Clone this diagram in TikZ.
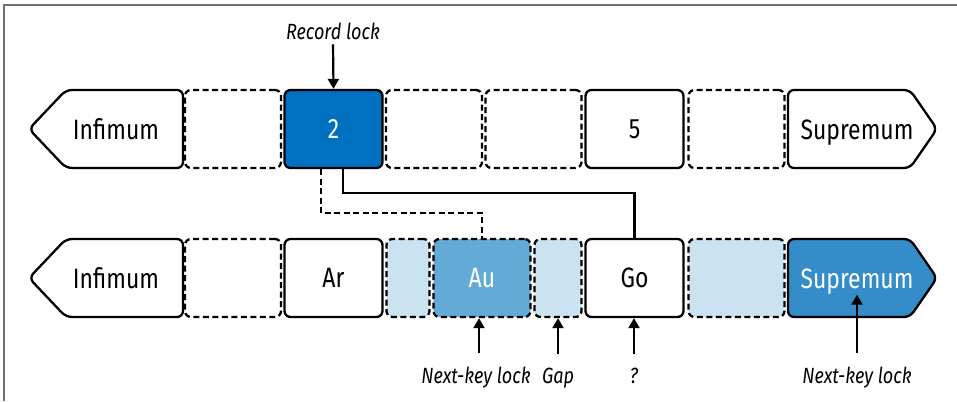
\documentclass[tikz,border=0pt]{standalone}
\usepackage{fontspec}
\setmainfont{Fira Sans}[FakeStretch=0.82]
\usetikzlibrary{arrows.meta}
\definecolor{blueA}{HTML}{0070C0}
\definecolor{blueB}{HTML}{64AAD7}
\definecolor{blueC}{HTML}{348CC8}
\definecolor{lightB}{HTML}{CBE2F0}
\definecolor{frameC}{HTML}{707070}
\begin{document}
\begin{tikzpicture}[x=1pt,y=-1pt,
  cell/.style={draw, line width=2.3pt, rounded corners=6pt, minimum height=78pt,
    minimum width=96pt, inner sep=0pt, font=\fontsize{28}{32}\selectfont},
  gapcell/.style={cell, dash pattern=on 6pt off 3.5pt},
  endcap/.style={draw, line width=2.3pt, rounded corners=6pt},
  endtext/.style={inner sep=0pt, anchor=base, font=\fontsize{28}{32}\selectfont},
  lab/.style={inner sep=1pt, anchor=base, font=\fontsize{22}{25}\selectfont\itshape},
  arr/.style={line width=2.2pt, -{Triangle[length=10pt,width=11pt]}},
  conn/.style={line width=2.2pt},
  dconn/.style={line width=2.2pt, dash pattern=on 6pt off 3.5pt}]
\useasboundingbox (0,0) rectangle (957,401);
% frame
\draw[frameC, line width=2pt] (4,401) -- (4,5.5) -- (957,5.5);

% ---- top row ----
\draw[endcap] (183,90) -- (66,90) -- (29,129) -- (66,168) -- (183,168) -- cycle;
\node[endtext] (tinf) at (116,139.5) {Infimum};
\node[gapcell] (t1) at (233,129) {};
\node[cell, fill=blueA, text=white, minimum width=98pt] (t2) at (333.5,129) {2};
\node[gapcell] (t3) at (434,129) {};
\node[gapcell] (t4) at (533.5,129) {};
\node[cell, minimum width=98pt] (t5) at (634.5,129) {5};
\node[gapcell] (t6) at (736.5,129) {};
\draw[endcap] (788,90) -- (910,90) -- (937,129) -- (910,168) -- (788,168) -- cycle;
\node[endtext] (tsup) at (857,139.5) {Supremum};

% ---- bottom row ----
\draw[endcap] (183,239) -- (66,239) -- (29,278) -- (66,317) -- (183,317) -- cycle;
\node[endtext] (binf) at (116,288.5) {Infimum};
\node[gapcell] (b1) at (233,278) {};
\node[cell, minimum width=98pt] (ar) at (333.5,278) {Ar};
\node[gapcell, fill=lightB, minimum width=43pt] (b3) at (408,278) {};
\node[gapcell, fill=blueB, text=white, minimum width=97pt] (au) at (482,278) {Au};
\node[gapcell, fill=lightB, minimum width=47pt] (gap) at (558,278) {};
\node[cell, minimum width=98pt] (go) at (634.5,278) {Go};
\node[gapcell, fill=lightB] (b6) at (736.5,278) {};
\draw[endcap, fill=blueC] (788,239) -- (910,239) -- (937,278) -- (910,317) -- (788,317) -- cycle;
\node[endtext, text=white] (bsup) at (857,288.5) {Supremum};

% ---- connectors ----
\draw[conn] ([xshift=9.5pt]t2.south) -- ++(0,24) -| (go.north);
\draw[dconn] ([xshift=-12.5pt]t2.south) -- ++(0,44) -| (au.north);

% ---- labels and arrows ----
\node[lab] (rl) at (333,40) {Record lock};
\draw[arr] ([yshift=-3pt]rl.south) -- (t2.north);
\node[lab] (nk1) at (476,383) {Next-key lock};
\draw[arr] ([xshift=3pt,yshift=12pt]nk1.north) -- ([xshift=3pt]nk1.north |- au.south);
\node[lab] (gp) at (558,383) {Gap};
\draw[arr] ([yshift=12pt]gp.north) -- (gp.north |- gap.south);
\node[lab] (qm) at (634,383) {?};
\draw[arr] ([yshift=12pt]qm.north) -- (qm.north |- go.south);
\node[lab] (nk2) at (857,383) {Next-key lock};
\draw[arr] ([yshift=12pt]nk2.north) -- (nk2.north |- bsup.south);
\end{tikzpicture}
\end{document}
